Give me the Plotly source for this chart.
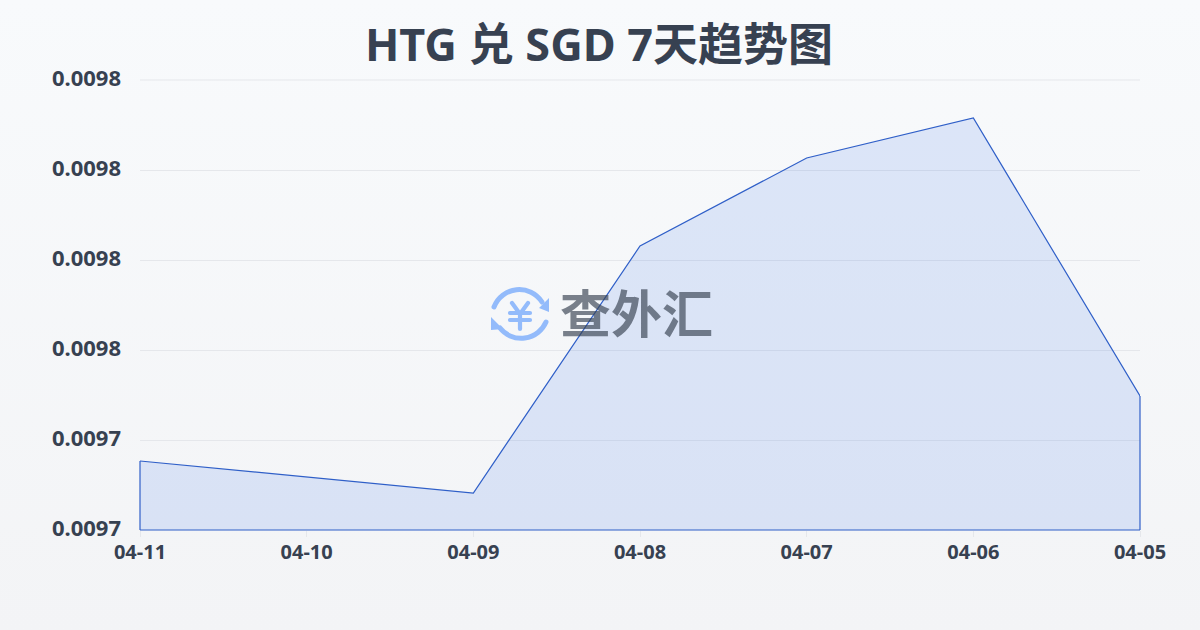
import base64
import plotly.graph_objects as go

dates = ["04-11", "04-10", "04-09", "04-08", "04-07", "04-06", "04-05"]
rates = [0.00973533, 0.00973178, 0.00972822, 0.00978311, 0.00980267, 0.00981156, 0.00974978]
title_text = "HTG 兑 SGD 7天趋势图"
watermark_text = "查外汇"

FONT = "'Noto Sans', 'Noto Sans CJK SC', sans-serif"
INK = "#374151"
LINE = "#2f5fc8"
GRID = "#e5e7eb"
Y_MIN, Y_MAX = 0.00972, 0.00982


def svg_uri(svg):
    return "data:image/svg+xml;base64," + base64.b64encode(svg.encode()).decode()


background = svg_uri(
    '<svg xmlns="http://www.w3.org/2000/svg" width="1200" height="630" preserveAspectRatio="none">'
    '<defs><linearGradient id="g" x1="0" y1="0" x2="0" y2="1">'
    '<stop offset="0" stop-color="#f8fafc"/><stop offset="1" stop-color="#f3f4f6"/>'
    '</linearGradient></defs><rect width="1200" height="630" fill="url(#g)"/></svg>'
)
logo = svg_uri(
    '<svg xmlns="http://www.w3.org/2000/svg" width="60" height="60" viewBox="0 0 60 60">'
    '<g fill="none" stroke="#93bbfb" stroke-width="5" stroke-linecap="round" stroke-linejoin="round">'
    '<path d="M4 22 A27 27 0 0 1 52 17"/><path d="M56 37 A27 27 0 0 1 10 43"/>'
    '<path d="M22 18 L30 29 L38 18 M30 29 V44 M20 28 H40 M20 35 H40" stroke-width="4.2"/></g>'
    '<path d="M59 13 V27 L49 23 Z M1 32 V45 L13 44 Z" fill="#93bbfb"/></svg>'
)

fig = go.Figure(
    go.Scatter(
        x=dates,
        y=rates,
        mode="lines",
        line=dict(color=LINE, width=1.2),
        fill="tozeroy",
        fillcolor="rgba(37,99,235,0.13)",
        hoverinfo="skip",
    )
)
# Closing outline down the two edges and along the base of the area
fig.add_shape(type="line", xref="paper", yref="paper", x0=0, x1=0, y0=0, y1=(rates[0] - Y_MIN) / (Y_MAX - Y_MIN),
              line=dict(color=LINE, width=1.2))
fig.add_shape(type="line", xref="paper", yref="paper", x0=1, x1=1, y0=0, y1=(rates[-1] - Y_MIN) / (Y_MAX - Y_MIN),
              line=dict(color=LINE, width=1.2))
fig.add_shape(type="line", xref="paper", yref="paper", x0=0, x1=1, y0=0, y1=0,
              line=dict(color=LINE, width=1.2))
# Top gridline sits on the edge of the plot area
fig.add_shape(type="line", xref="paper", yref="paper", x0=0, x1=1, y0=1, y1=1, layer="below",
              line=dict(color=GRID, width=1))

fig.update_layout(
    width=1200,
    height=630,
    autosize=False,
    margin=dict(l=140, r=60, t=80, b=100),
    paper_bgcolor="rgba(0,0,0,0)",
    plot_bgcolor="rgba(0,0,0,0)",
    showlegend=False,
    title=dict(
        text=title_text,
        x=(599 / 1200),
        xanchor="center",
        y=1 - 45 / 630,
        yanchor="middle",
        font=dict(family=FONT, size=45, color=INK, weight="bold"),
    ),
    xaxis=dict(
        type="category",
        range=[0, 6],
        showgrid=False,
        zeroline=False,
        showline=False,
        ticks="outside",
        ticklen=6,
        tickwidth=1,
        tickcolor=GRID,
        ticklabelstandoff=-2,
        tickfont=dict(family=FONT, size=20, color=INK, weight="bold"),
    ),
    yaxis=dict(
        range=[Y_MIN, Y_MAX],
        tick0=Y_MIN,
        dtick=0.00002,
        tickformat=".4f",
        showgrid=True,
        gridcolor=GRID,
        gridwidth=1,
        zeroline=False,
        showline=False,
        ticks="",
        ticklabelstandoff=18,
        ticklabelshift=-2,
        tickfont=dict(family=FONT, size=22, color=INK, weight="bold"),
    ),
    images=[
        dict(source=background, xref="paper", yref="paper", x=-140 / 1000, y=1 + 80 / 450,
             sizex=1.2, sizey=1.4, xanchor="left", yanchor="top", sizing="stretch", layer="below"),
        dict(source=logo, xref="paper", yref="paper", x=350 / 1000, y=(530 - 285) / 450,
             sizex=60 / 1000, sizey=60 / 450, xanchor="left", yanchor="top", sizing="stretch", layer="above"),
    ],
    annotations=[
        dict(text=watermark_text, xref="paper", yref="paper", x=(636 - 140) / 1000, y=(530 - 311) / 450,
             xanchor="center", yanchor="middle", showarrow=False,
             font=dict(family="'Noto Sans CJK SC'", size=51, color="rgba(55,65,81,0.66)", weight="bold")),
    ],
)

fig.write_html(
    "out.html",
    config=dict(displayModeBar=False),
    post_script="document.documentElement.style.margin='0';document.body.style.margin='0';document.body.style.overflow='hidden';",
)
